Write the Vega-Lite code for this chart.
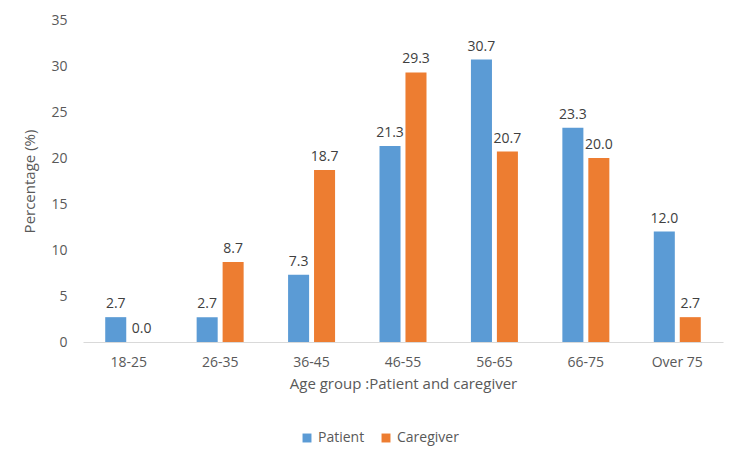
{
  "$schema": "https://vega.github.io/schema/vega-lite/v6.json",
  "width": 640,
  "height": 322,
  "autosize": {"type": "none"},
  "padding": {"left": 83, "top": 20, "right": 27, "bottom": 121},
  "background": "white",
  "config": {
    "view": {"stroke": null},
    "font": "Open Sans",
    "axis": {"labelColor": "#595959", "titleColor": "#595959", "labelFontSize": 14, "titleFontSize": 15, "titleFontWeight": "normal"},
    "legend": {"labelColor": "#595959", "labelFontSize": 14}
  },
  "data": {
    "values": [
      {"age": "18-25", "group": "Patient", "pct": 2.7},
      {"age": "18-25", "group": "Caregiver", "pct": 0.0},
      {"age": "26-35", "group": "Patient", "pct": 2.7},
      {"age": "26-35", "group": "Caregiver", "pct": 8.7},
      {"age": "36-45", "group": "Patient", "pct": 7.3},
      {"age": "36-45", "group": "Caregiver", "pct": 18.7},
      {"age": "46-55", "group": "Patient", "pct": 21.3},
      {"age": "46-55", "group": "Caregiver", "pct": 29.3},
      {"age": "56-65", "group": "Patient", "pct": 30.7},
      {"age": "56-65", "group": "Caregiver", "pct": 20.7},
      {"age": "66-75", "group": "Patient", "pct": 23.3},
      {"age": "66-75", "group": "Caregiver", "pct": 20.0},
      {"age": "Over 75", "group": "Patient", "pct": 12.0},
      {"age": "Over 75", "group": "Caregiver", "pct": 2.7}
    ]
  },
  "encoding": {
    "x": {
      "field": "age", "type": "nominal", "sort": null,
      "scale": {"paddingInner": 0.486, "paddingOuter": 0.243},
      "axis": {"labelAngle": 0, "ticks": false, "domainColor": "#d9d9d9", "labelPadding": 13, "title": "Age group :Patient and caregiver", "titlePadding": 7}
    },
    "xOffset": {"field": "group", "type": "nominal", "sort": ["Patient", "Caregiver"], "scale": {"paddingInner": 0.19, "paddingOuter": 0}},
    "y": {
      "field": "pct", "type": "quantitative",
      "scale": {"domain": [0, 35]},
      "axis": {"values": [0,5,10,15,20,25,30,35], "grid": false, "domain": false, "ticks": false, "labelPadding": 16, "title": "Percentage (%)", "titlePadding": 13}
    }
  },
  "layer": [
    {
      "mark": {"type": "bar"},
      "encoding": {
        "color": {
          "field": "group", "type": "nominal", "sort": ["Patient", "Caregiver"],
          "scale": {"domain": ["Patient", "Caregiver"], "range": ["#5B9BD5", "#ED7D31"]},
          "legend": {"orient": "none", "legendX": 217, "legendY": 411, "direction": "horizontal", "title": null, "symbolType": "square", "symbolSize": 80, "symbolStrokeWidth": 0, "columnPadding": 14, "labelOffset": 4}
        }
      }
    },
    {
      "mark": {"type": "text", "baseline": "bottom", "dy": -6, "fontSize": 14, "color": "#404040"},
      "encoding": {
        "text": {"field": "pct", "type": "quantitative", "format": ".1f"}
      }
    }
  ]
}
